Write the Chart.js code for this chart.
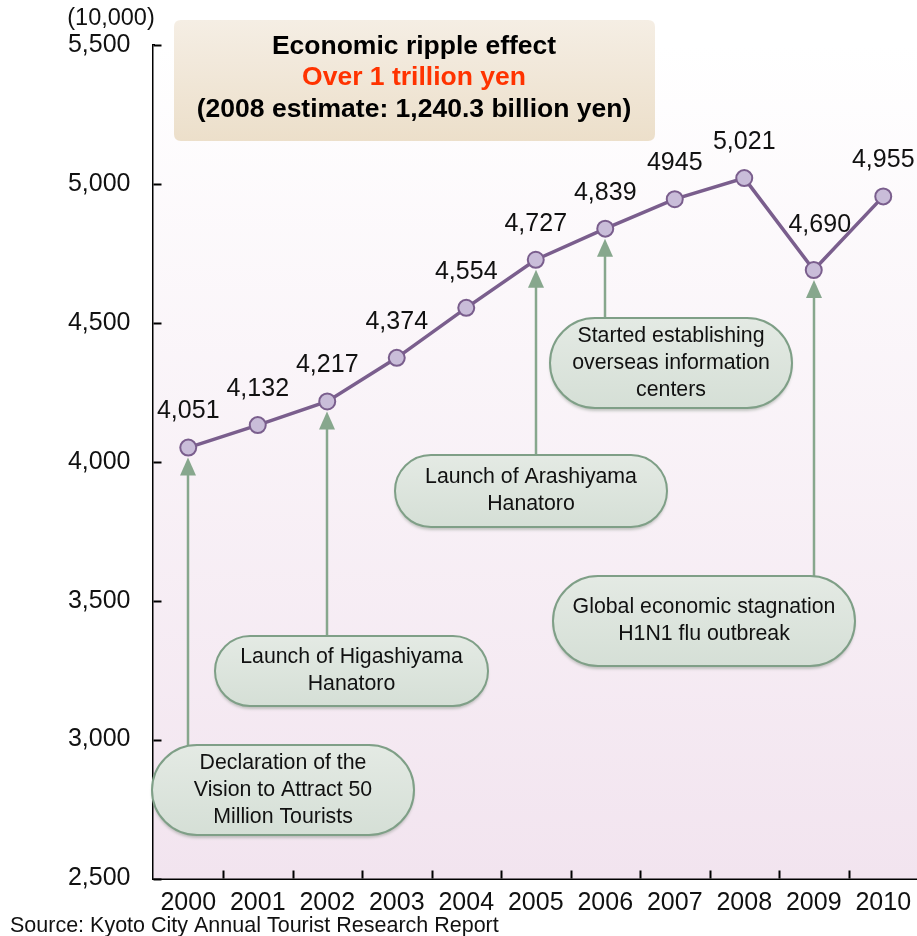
<!DOCTYPE html>
<html>
<head>
<meta charset="utf-8">
<script src="https://cdn.jsdelivr.net/npm/chart.js@4.4.0/dist/chart.umd.min.js"></script>
<style>
html,body{margin:0;padding:0;background:#fff;overflow:hidden;}
#wrap{width:917px;height:936px;position:relative;overflow:hidden;}
</style>
</head>
<body>
<div id="wrap"><canvas id="c" width="928" height="936"></canvas></div>
<script>
const years = ['2000','2001','2002','2003','2004','2005','2006','2007','2008','2009','2010'];
const visitors = [4051, 4132, 4217, 4374, 4554, 4727, 4839, 4945, 5021, 4690, 4955];
const valueLabels = ['4,051','4,132','4,217','4,374','4,554','4,727','4,839','4945','5,021','4,690','4,955'];
const yTicks = [2500, 3000, 3500, 4000, 4500, 5000, 5500];
const unitLabel = '(10,000)';
const titleLines = ['Economic ripple effect', 'Over 1 trillion yen', '(2008 estimate: 1,240.3 billion yen)'];
const sourceText = 'Source: Kyoto City Annual Tourist Research Report';
const callouts = [
  {year: '2000', lines: ['Declaration of the', 'Vision to Attract 50', 'Million Tourists']},
  {year: '2002', lines: ['Launch of Higashiyama', 'Hanatoro']},
  {year: '2005', lines: ['Launch of Arashiyama', 'Hanatoro']},
  {year: '2006', lines: ['Started establishing', 'overseas information', 'centers']},
  {year: '2009', lines: ['Global economic stagnation', 'H1N1 flu outbreak']}
];

const FONT = '"Liberation Sans", Arial, sans-serif';
// layout of callout pills (pixel boxes)
const calloutBoxes = [
  {x1:152, x2:414, y1:745, y2:835},
  {x1:215, x2:488, y1:636, y2:706},
  {x1:395, x2:667, y1:455, y2:527},
  {x1:550, x2:792, y1:318, y2:408},
  {x1:553, x2:855, y1:576, y2:666}
];
const labelOffsets = {9: {dx: 6, dy: -45}};

function pill(ctx, x1, y1, x2, y2) {
  const r = (y2 - y1) / 2;
  ctx.beginPath();
  ctx.moveTo(x1 + r, y1);
  ctx.lineTo(x2 - r, y1);
  ctx.arc(x2 - r, y1 + r, r, -Math.PI/2, Math.PI/2);
  ctx.lineTo(x1 + r, y2);
  ctx.arc(x1 + r, y1 + r, r, Math.PI/2, Math.PI*1.5);
  ctx.closePath();
}
function roundRect(ctx, x, y, w, h, r) {
  ctx.beginPath();
  ctx.moveTo(x + r, y);
  ctx.lineTo(x + w - r, y);
  ctx.quadraticCurveTo(x + w, y, x + w, y + r);
  ctx.lineTo(x + w, y + h - r);
  ctx.quadraticCurveTo(x + w, y + h, x + w - r, y + h);
  ctx.lineTo(x + r, y + h);
  ctx.quadraticCurveTo(x, y + h, x, y + h - r);
  ctx.lineTo(x, y + r);
  ctx.quadraticCurveTo(x, y, x + r, y);
  ctx.closePath();
}

const decor = {
  id: 'decor',
  beforeDatasetsDraw(chart) {
    const ctx = chart.ctx, a = chart.chartArea;
    const g = ctx.createLinearGradient(0, a.top, 0, a.bottom);
    g.addColorStop(0, '#ffffff');
    g.addColorStop(1, '#f2e4ef');
    ctx.save();
    ctx.fillStyle = g;
    ctx.fillRect(a.left, a.top, a.right - a.left, a.bottom - a.top);
    ctx.restore();
  },
  afterDatasetsDraw(chart) {
    const ctx = chart.ctx, a = chart.chartArea;
    const ys = chart.scales.y;
    const meta = chart.getDatasetMeta(0);
    ctx.save();
    // inward tick marks
    ctx.strokeStyle = '#000';
    ctx.lineWidth = 2;
    yTicks.forEach(v => {
      const y = Math.round(ys.getPixelForValue(v)) + 0.5;
      ctx.beginPath(); ctx.moveTo(a.left, y); ctx.lineTo(a.left + 8, y); ctx.stroke();
    });
    const step = (a.right - a.left) / years.length;
    for (let i = 1; i < years.length; i++) {
      const x = Math.round(a.left + i * step) + 0.5;
      ctx.beginPath(); ctx.moveTo(x, a.bottom); ctx.lineTo(x, a.bottom - 8); ctx.stroke();
    }
    // arrows and callouts
    callouts.forEach((c, k) => {
      const idx = years.indexOf(c.year);
      const pt = meta.data[idx];
      const b = calloutBoxes[k];
      const px = Math.round(pt.x);
      const tip = pt.y + 10;
      ctx.strokeStyle = '#87a78d';
      ctx.fillStyle = '#87a78d';
      ctx.lineWidth = 2.5;
      ctx.beginPath(); ctx.moveTo(px, tip + 14); ctx.lineTo(px, b.y1 + 2); ctx.stroke();
      ctx.beginPath();
      ctx.moveTo(px, tip);
      ctx.lineTo(px - 8, tip + 18);
      ctx.lineTo(px + 8, tip + 18);
      ctx.closePath(); ctx.fill();
      ctx.save();
      ctx.shadowColor = 'rgba(90,110,90,0.35)';
      ctx.shadowBlur = 3;
      ctx.shadowOffsetY = 3;
      pill(ctx, b.x1, b.y1, b.x2, b.y2);
      const g = ctx.createLinearGradient(0, b.y1, 0, b.y2);
      g.addColorStop(0, '#e4eae4');
      g.addColorStop(1, '#d5dfd6');
      ctx.fillStyle = g;
      ctx.fill();
      ctx.restore();
      pill(ctx, b.x1, b.y1, b.x2, b.y2);
      ctx.strokeStyle = '#7f9f87';
      ctx.lineWidth = 2;
      ctx.stroke();
      ctx.fillStyle = '#111';
      ctx.font = '21.3px ' + FONT;
      ctx.textAlign = 'center';
      ctx.textBaseline = 'middle';
      const cx = (b.x1 + b.x2) / 2, cy = (b.y1 + b.y2) / 2;
      const lh = 27;
      c.lines.forEach((ln, j) => {
        ctx.fillText(ln, cx, cy + (j - (c.lines.length - 1) / 2) * lh);
      });
    });
    ctx.restore();
  },
  afterDraw(chart) {
    const ctx = chart.ctx;
    const meta = chart.getDatasetMeta(0);
    ctx.save();
    ctx.fillStyle = '#111';
    ctx.font = '25px ' + FONT;
    ctx.textAlign = 'center';
    ctx.textBaseline = 'middle';
    meta.data.forEach((pt, i) => {
      const o = labelOffsets[i] || {dx: 0, dy: -36};
      ctx.fillText(valueLabels[i], pt.x + o.dx, pt.y + o.dy);
    });
    // title box
    const g = ctx.createLinearGradient(0, 20, 0, 141);
    g.addColorStop(0, '#f5eee4');
    g.addColorStop(1, '#ecdfca');
    roundRect(ctx, 174, 20, 481, 121, 7);
    ctx.fillStyle = g; ctx.fill();
    ctx.font = 'bold 26.5px ' + FONT;
    ctx.fillStyle = '#000';
    ctx.fillText(titleLines[0], 414, 47);
    ctx.fillStyle = '#ff3300';
    ctx.fillText(titleLines[1], 414, 78);
    ctx.fillStyle = '#000';
    ctx.fillText(titleLines[2], 414, 110);
    // unit label
    ctx.font = '23.5px ' + FONT;
    ctx.fillStyle = '#111';
    ctx.fillText(unitLabel, 111, 19);
    // source
    ctx.textAlign = 'left';
    ctx.font = '21.5px ' + FONT;
    ctx.fillText(sourceText, 10, 926);
    ctx.restore();
  }
};

new Chart(document.getElementById('c'), {
  type: 'line',
  data: {
    labels: years,
    datasets: [{
      data: visitors,
      borderColor: '#7a5e8d',
      borderWidth: 3.5,
      pointRadius: 8,
      pointHoverRadius: 8,
      pointBackgroundColor: '#c9bdd9',
      pointBorderColor: '#7a5e8d',
      pointBorderWidth: 2,
      tension: 0,
      clip: false
    }]
  },
  options: {
    responsive: false,
    animation: false,
    events: [],
    layout: {padding: {top: 45, right: 0, bottom: 0, left: 0}},
    plugins: {legend: {display: false}, tooltip: {enabled: false}, title: {display: false}},
    scales: {
      x: {
        type: 'category',
        offset: true,
        grid: {display: false, drawTicks: false},
        border: {display: true, color: '#000', width: 3},
        ticks: {color: '#111', font: {family: FONT, size: 25}, padding: 10, maxRotation: 0, autoSkip: false},
        afterFit(s) { s.height = 57.5; s.paddingLeft = 0; s.paddingRight = 0; }
      },
      y: {
        min: 2500, max: 5500,
        afterBuildTicks(s) { s.ticks = yTicks.map(v => ({value: v})); },
        grid: {display: false, drawTicks: false},
        border: {display: true, color: '#000', width: 3},
        ticks: {color: '#111', font: {family: FONT, size: 25}, padding: 23,
          callback: v => v.toLocaleString('en-US')},
        afterFit(s) { s.width = 153.5; s.paddingTop = 0; s.paddingBottom = 0; }
      }
    }
  },
  plugins: [decor]
});
</script>
</body>
</html>
